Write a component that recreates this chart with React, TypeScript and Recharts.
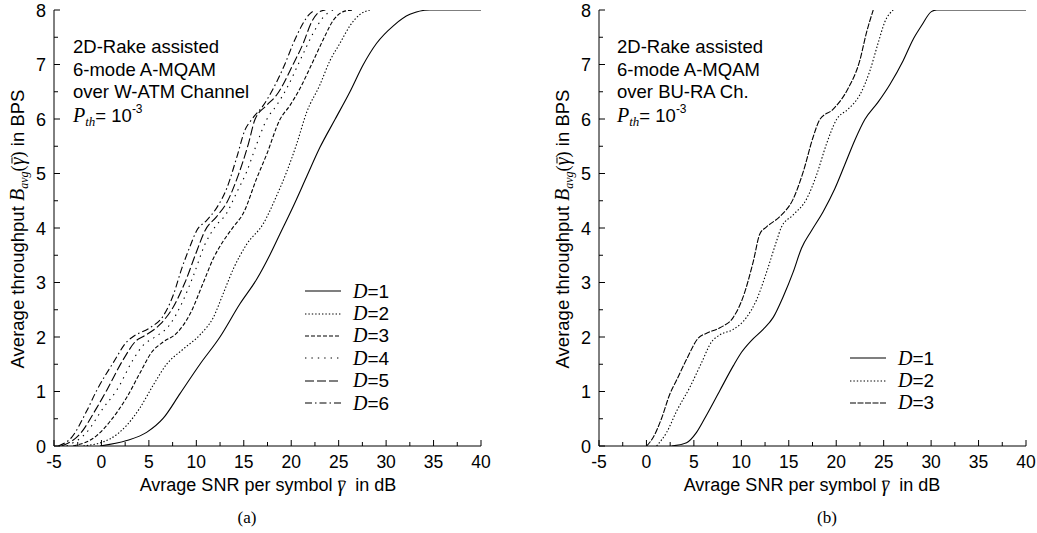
import React from "react";
import { LineChart, Line, XAxis, YAxis } from "recharts";

type P = { x: number; y: number };

// ---- Panel (a): W-ATM channel ----
const aD1: P[] = [
  { x: -0.15, y: 0 }, { x: 2.66, y: 0.1 }, { x: 4.76, y: 0.25 }, { x: 6.52, y: 0.51 },
  { x: 8.28, y: 0.96 }, { x: 10.38, y: 1.5 }, { x: 12.49, y: 2.0 }, { x: 14.6, y: 2.61 },
  { x: 16.36, y: 3.06 }, { x: 17.76, y: 3.51 }, { x: 18.81, y: 3.89 }, { x: 20.22, y: 4.4 },
  { x: 21.62, y: 4.94 }, { x: 23.03, y: 5.48 }, { x: 24.61, y: 5.99 }, { x: 26.19, y: 6.5 },
  { x: 27.6, y: 7.0 }, { x: 29.0, y: 7.39 }, { x: 30.76, y: 7.71 }, { x: 32.51, y: 7.92 },
  { x: 34.6, y: 8.0 }, { x: 40, y: 8.0 },
];
const aD2: P[] = [
  { x: -1.9, y: 0 }, { x: 0.9, y: 0.13 }, { x: 2.66, y: 0.38 }, { x: 4.06, y: 0.7 },
  { x: 5.47, y: 1.12 }, { x: 6.87, y: 1.5 }, { x: 8.63, y: 1.78 }, { x: 10.38, y: 2.04 },
  { x: 11.79, y: 2.36 }, { x: 12.84, y: 2.8 }, { x: 13.9, y: 3.25 }, { x: 15.3, y: 3.7 },
  { x: 17.06, y: 4.08 }, { x: 18.46, y: 4.59 }, { x: 19.52, y: 5.03 }, { x: 20.57, y: 5.54 },
  { x: 21.62, y: 6.12 }, { x: 23.03, y: 6.63 }, { x: 24.08, y: 7.07 }, { x: 25.14, y: 7.39 },
  { x: 26.19, y: 7.71 }, { x: 27.25, y: 7.92 }, { x: 28.3, y: 8.0 },
];
const aD3: P[] = [
  { x: -3.0, y: 0 }, { x: -0.5, y: 0.19 }, { x: 0.9, y: 0.45 }, { x: 2.66, y: 0.89 },
  { x: 4.06, y: 1.34 }, { x: 5.29, y: 1.72 }, { x: 6.52, y: 1.91 }, { x: 7.93, y: 2.07 },
  { x: 9.33, y: 2.42 }, { x: 10.74, y: 3.0 }, { x: 11.79, y: 3.44 }, { x: 12.84, y: 3.76 },
  { x: 13.9, y: 4.02 }, { x: 14.95, y: 4.27 }, { x: 16.36, y: 4.91 }, { x: 17.41, y: 5.35 },
  { x: 18.81, y: 5.99 }, { x: 19.87, y: 6.25 }, { x: 20.92, y: 6.56 }, { x: 22.33, y: 7.07 },
  { x: 23.38, y: 7.46 }, { x: 24.43, y: 7.81 }, { x: 25.49, y: 7.97 }, { x: 26.5, y: 8.0 },
];
const aD4: P[] = [
  { x: -3.67, y: 0 }, { x: -1.56, y: 0.25 }, { x: 0.2, y: 0.7 }, { x: 1.6, y: 1.02 },
  { x: 3.36, y: 1.59 }, { x: 4.41, y: 1.85 }, { x: 5.47, y: 1.98 }, { x: 7.22, y: 2.23 },
  { x: 8.45, y: 2.61 }, { x: 9.68, y: 3.12 }, { x: 10.91, y: 3.7 }, { x: 11.97, y: 4.02 },
  { x: 13.19, y: 4.27 }, { x: 14.25, y: 4.65 }, { x: 15.3, y: 5.03 }, { x: 16.36, y: 5.54 },
  { x: 17.41, y: 5.99 }, { x: 18.46, y: 6.25 }, { x: 19.52, y: 6.56 }, { x: 20.92, y: 7.07 },
  { x: 22.33, y: 7.58 }, { x: 23.38, y: 7.87 }, { x: 24.4, y: 8.0 },
];
const aD5: P[] = [
  { x: -4.2, y: 0 }, { x: -2.26, y: 0.22 }, { x: -0.5, y: 0.7 }, { x: 0.55, y: 1.02 },
  { x: 2.31, y: 1.59 }, { x: 3.71, y: 1.94 }, { x: 4.41, y: 2.01 }, { x: 6.17, y: 2.23 },
  { x: 7.57, y: 2.55 }, { x: 8.8, y: 3.0 }, { x: 10.03, y: 3.57 }, { x: 10.91, y: 3.95 },
  { x: 12.14, y: 4.21 }, { x: 13.19, y: 4.46 }, { x: 14.42, y: 4.97 }, { x: 15.48, y: 5.54 },
  { x: 16.18, y: 5.99 }, { x: 17.41, y: 6.25 }, { x: 18.46, y: 6.44 }, { x: 20.22, y: 7.01 },
  { x: 21.27, y: 7.39 }, { x: 22.15, y: 7.78 }, { x: 23.0, y: 7.97 }, { x: 23.6, y: 8.0 },
];
const aD6: P[] = [
  { x: -4.54, y: 0 }, { x: -3.14, y: 0.16 }, { x: -1.56, y: 0.64 }, { x: -0.5, y: 1.02 },
  { x: 1.25, y: 1.53 }, { x: 2.66, y: 1.91 }, { x: 3.36, y: 2.01 }, { x: 5.12, y: 2.17 },
  { x: 6.52, y: 2.39 }, { x: 7.57, y: 2.77 }, { x: 8.45, y: 3.25 }, { x: 9.33, y: 3.66 },
  { x: 10.03, y: 3.95 }, { x: 11.09, y: 4.14 }, { x: 12.14, y: 4.37 }, { x: 13.19, y: 4.72 },
  { x: 14.25, y: 5.29 }, { x: 15.13, y: 5.8 }, { x: 15.83, y: 5.99 }, { x: 17.06, y: 6.25 },
  { x: 18.11, y: 6.56 }, { x: 19.34, y: 7.01 }, { x: 20.22, y: 7.39 }, { x: 21.1, y: 7.71 },
  { x: 21.8, y: 7.9 }, { x: 22.5, y: 8.0 },
];

// ---- Panel (b): BU-RA channel ----
const bD1: P[] = [
  { x: 2.65, y: 0 }, { x: 4.23, y: 0.06 }, { x: 5.28, y: 0.25 }, { x: 6.34, y: 0.57 },
  { x: 7.74, y: 1.02 }, { x: 9.15, y: 1.47 }, { x: 10.02, y: 1.72 }, { x: 11.08, y: 1.94 },
  { x: 12.3, y: 2.14 }, { x: 13.36, y: 2.36 }, { x: 14.41, y: 2.74 }, { x: 15.46, y: 3.19 },
  { x: 16.34, y: 3.63 }, { x: 17.39, y: 3.95 }, { x: 18.62, y: 4.3 }, { x: 19.85, y: 4.72 },
  { x: 20.9, y: 5.16 }, { x: 21.96, y: 5.61 }, { x: 23.01, y: 5.99 }, { x: 24.41, y: 6.31 },
  { x: 25.64, y: 6.63 }, { x: 27.05, y: 7.07 }, { x: 28.1, y: 7.46 }, { x: 28.98, y: 7.71 },
  { x: 30.03, y: 7.97 }, { x: 30.6, y: 8.0 }, { x: 40, y: 8.0 },
];
const bD2: P[] = [
  { x: 1.07, y: 0 }, { x: 2.13, y: 0.25 }, { x: 3.18, y: 0.64 }, { x: 4.58, y: 1.08 },
  { x: 5.81, y: 1.53 }, { x: 6.86, y: 1.91 }, { x: 7.74, y: 2.04 }, { x: 9.15, y: 2.14 },
  { x: 10.55, y: 2.36 }, { x: 11.6, y: 2.68 }, { x: 12.66, y: 3.19 }, { x: 13.71, y: 3.76 },
  { x: 14.23, y: 4.02 }, { x: 15.46, y: 4.24 }, { x: 16.87, y: 4.53 }, { x: 17.92, y: 4.97 },
  { x: 18.97, y: 5.54 }, { x: 20.03, y: 5.99 }, { x: 21.25, y: 6.18 }, { x: 22.48, y: 6.44 },
  { x: 23.54, y: 6.88 }, { x: 24.41, y: 7.39 }, { x: 25.12, y: 7.78 }, { x: 26.0, y: 8.0 },
];
const bD3: P[] = [
  { x: 0.02, y: 0 }, { x: 0.72, y: 0.16 }, { x: 1.6, y: 0.51 }, { x: 2.48, y: 0.96 },
  { x: 3.18, y: 1.21 }, { x: 4.23, y: 1.59 }, { x: 5.46, y: 1.98 }, { x: 6.34, y: 2.07 },
  { x: 7.74, y: 2.17 }, { x: 9.15, y: 2.36 }, { x: 10.2, y: 2.74 }, { x: 11.25, y: 3.38 },
  { x: 11.95, y: 3.89 }, { x: 12.66, y: 4.02 }, { x: 14.06, y: 4.21 }, { x: 15.46, y: 4.53 },
  { x: 16.52, y: 5.03 }, { x: 17.57, y: 5.67 }, { x: 18.27, y: 5.99 }, { x: 19.68, y: 6.18 },
  { x: 21.25, y: 6.56 }, { x: 22.48, y: 7.07 }, { x: 23.18, y: 7.58 }, { x: 23.9, y: 8.0 },
];

const xTicks = [-5, -2.5, 0, 2.5, 5, 7.5, 10, 12.5, 15, 17.5, 20, 22.5, 25, 27.5, 30, 32.5, 35, 37.5, 40];
const yTicks = [0, 0.5, 1, 1.5, 2, 2.5, 3, 3.5, 4, 4.5, 5, 5.5, 6, 6.5, 7, 7.5, 8];
const xLabelValues = [-5, 0, 5, 10, 15, 20, 25, 30, 35, 40];
const yLabelValues = [0, 1, 2, 3, 4, 5, 6, 7, 8];

const seriesA = [
  { name: "1", data: aD1, dash: undefined as string | undefined },
  { name: "2", data: aD2, dash: "1.4 2" },
  { name: "3", data: aD3, dash: "4 2" },
  { name: "4", data: aD4, dash: "1.4 5" },
  { name: "5", data: aD5, dash: "9 3" },
  { name: "6", data: aD6, dash: "7 3 1.5 3" },
];
const seriesB = [
  { name: "1", data: bD1, dash: undefined as string | undefined },
  { name: "2", data: bD2, dash: "1.4 2" },
  { name: "3", data: bD3, dash: "6 1.5" },
];

const SANS = "'Liberation Sans', Arial, Helvetica, sans-serif";
const SERIF = "'Liberation Serif', 'Times New Roman', serif";

const BottomTick = (props: any) => {
  const { x, y, payload } = props;
  const v = payload.value as number;
  const major = xLabelValues.includes(v);
  return (
    <g>
      <line x1={x} y1={y} x2={x} y2={y - (major ? 6 : 4)} stroke="#000" strokeWidth={1} />
      {major && (
        <text x={x} y={y + 22} textAnchor="middle" fontSize={17.5} fontFamily={SANS} fill="#000">
          {v}
        </text>
      )}
    </g>
  );
};
const TopTick = (props: any) => {
  const { x, y, payload } = props;
  const major = xLabelValues.includes(payload.value);
  return <line x1={x} y1={y} x2={x} y2={y + (major ? 6 : 4)} stroke="#000" strokeWidth={1} />;
};
const LeftTick = (props: any) => {
  const { x, y, payload } = props;
  const v = payload.value as number;
  const major = yLabelValues.includes(v);
  return (
    <g>
      <line x1={x} y1={y} x2={x + (major ? 6 : 4)} y2={y} stroke="#000" strokeWidth={1} />
      {major && (
        <text x={x - 8} y={y + 6.5} textAnchor="end" fontSize={18} fontFamily={SANS} fill="#000">
          {v}
        </text>
      )}
    </g>
  );
};
const RightTick = (props: any) => {
  const { x, y, payload } = props;
  const major = yLabelValues.includes(payload.value);
  return <line x1={x} y1={y} x2={x - (major ? 6 : 4)} y2={y} stroke="#000" strokeWidth={1} />;
};

function Panel({ series, width }: { series: typeof seriesA; width: number }) {
  return (
    <LineChart width={width} height={533} margin={{ top: 10, right: width === 520 ? 39 : 11, bottom: 57, left: 0 }}>
      <XAxis
        xAxisId="b"
        dataKey="x"
        type="number"
        domain={[-5, 40]}
        ticks={xTicks}
        interval={0}
        allowDataOverflow
        orientation="bottom"
        height={30}
        tickSize={0}
        tickMargin={0}
        stroke="#000"
        tick={<BottomTick />}
      />
      <XAxis
        xAxisId="t"
        dataKey="x"
        type="number"
        domain={[-5, 40]}
        ticks={xTicks}
        interval={0}
        allowDataOverflow
        orientation="top"
        height={0}
        tickSize={0}
        tickMargin={0}
        stroke="#000"
        tick={<TopTick />}
      />
      <YAxis
        yAxisId="l"
        type="number"
        domain={[0, 8]}
        ticks={yTicks}
        interval={0}
        allowDataOverflow
        orientation="left"
        width={54}
        tickSize={0}
        tickMargin={0}
        stroke="#000"
        tick={<LeftTick />}
      />
      <YAxis
        yAxisId="r"
        type="number"
        domain={[0, 8]}
        ticks={yTicks}
        interval={0}
        allowDataOverflow
        orientation="right"
        width={0}
        tickSize={0}
        tickMargin={0}
        stroke="#000"
        tick={<RightTick />}
      />
      {series.map((s) => (
        <Line
          key={s.name}
          xAxisId="b"
          yAxisId="l"
          data={s.data}
          dataKey="y"
          type="monotone"
          stroke="#000"
          strokeWidth={1.1}
          strokeDasharray={s.dash}
          dot={false}
          activeDot={false}
          isAnimationActive={false}
        />
      ))}
    </LineChart>
  );
}

function GammaBar({ size }: { size: number }) {
  return (
    <span style={{ position: "relative", display: "inline-block", fontFamily: SERIF, fontStyle: "italic", fontSize: size }}>
      γ
      <span
        style={{
          position: "absolute",
          left: "22%",
          right: "5%",
          top: "0.28em",
          borderTop: "1px solid #000",
        }}
      />
    </span>
  );
}

function Legend({ series, left, top }: { series: typeof seriesA; left: number; top: number }) {
  return (
    <div style={{ position: "absolute", left, top }}>
      {series.map((s) => (
        <div key={s.name} style={{ display: "flex", alignItems: "center", height: 22.4 }}>
          <svg width={36} height={10} style={{ display: "block" }}>
            <line x1={0} y1={5} x2={36} y2={5} stroke="#000" strokeWidth={1.1} strokeDasharray={s.dash} />
          </svg>
          <span style={{ marginLeft: 12, fontSize: 19, fontFamily: SANS, lineHeight: "22px" }}>
            <i style={{ fontFamily: SERIF, fontSize: 20 }}>D</i>={s.name}
          </span>
        </div>
      ))}
    </div>
  );
}

function Note({ left, lines }: { left: number; lines: string[] }) {
  return (
    <div
      style={{
        position: "absolute",
        left,
        top: 36,
        fontFamily: SANS,
        fontSize: 18.5,
        lineHeight: "22.7px",
        whiteSpace: "nowrap",
        color: "#000",
      }}
    >
      {lines.map((l) => (
        <div key={l}>{l}</div>
      ))}
      <div style={{ height: 22.7 }}>
        <i style={{ fontFamily: SERIF, fontSize: 20 }}>P</i>
        <span style={{ fontFamily: SERIF, fontStyle: "italic", fontSize: 13, position: "relative", top: 4 }}>th</span>
        = 10
        <span style={{ fontSize: 12, position: "relative", top: -9 }}>-3</span>
      </div>
    </div>
  );
}

function YTitle({ cx }: { cx: number }) {
  return (
    <div
      style={{
        position: "absolute",
        left: cx,
        top: 229,
        transform: "translate(-50%, -50%) rotate(-90deg)",
        fontFamily: SANS,
        fontSize: 18.5,
        whiteSpace: "nowrap",
        lineHeight: "22px",
      }}
    >
      Average throughput <i style={{ fontFamily: SERIF, fontSize: 20 }}>B</i>
      <span style={{ fontFamily: SERIF, fontStyle: "italic", fontSize: 12, position: "relative", top: 4 }}>avg</span>
      <span style={{ fontFamily: SERIF }}>(</span>
      <GammaBar size={20} />
      <span style={{ fontFamily: SERIF }}>)</span> in BPS
    </div>
  );
}

function XTitle({ cx }: { cx: number }) {
  return (
    <div
      style={{
        position: "absolute",
        left: cx,
        top: 484,
        transform: "translate(-50%, -50%)",
        fontFamily: SANS,
        fontSize: 18,
        whiteSpace: "nowrap",
        lineHeight: "18px",
      }}
    >
      Avrage SNR per symbol <GammaBar size={20} />&nbsp; in dB
    </div>
  );
}

function Caption({ cx, text }: { cx: number; text: string }) {
  return (
    <div
      style={{
        position: "absolute",
        left: cx,
        top: 518,
        transform: "translate(-50%, -50%)",
        fontFamily: SERIF,
        fontSize: 17,
        lineHeight: "18px",
      }}
    >
      {text}
    </div>
  );
}

export default function App() {
  return (
    <div style={{ position: "absolute", left: 0, top: 0, width: 1037, height: 533, background: "#fff", overflow: "hidden" }}>
      <div style={{ position: "absolute", left: 0, top: 0 }}>
        <Panel series={seriesA} width={520} />
      </div>
      <div style={{ position: "absolute", left: 545, top: 0 }}>
        <Panel series={seriesB} width={492} />
      </div>
      <Note left={73} lines={["2D-Rake assisted", "6-mode A-MQAM", "over W-ATM Channel"]} />
      <Note left={617} lines={["2D-Rake assisted", "6-mode A-MQAM", "over BU-RA Ch."]} />
      <Legend series={seriesA} left={305} top={280} />
      <Legend series={seriesB} left={850} top={347} />
      <YTitle cx={18} />
      <YTitle cx={563} />
      <XTitle cx={268} />
      <XTitle cx={812} />
      <Caption cx={247} text="(a)" />
      <Caption cx={827} text="(b)" />
    </div>
  );
}
